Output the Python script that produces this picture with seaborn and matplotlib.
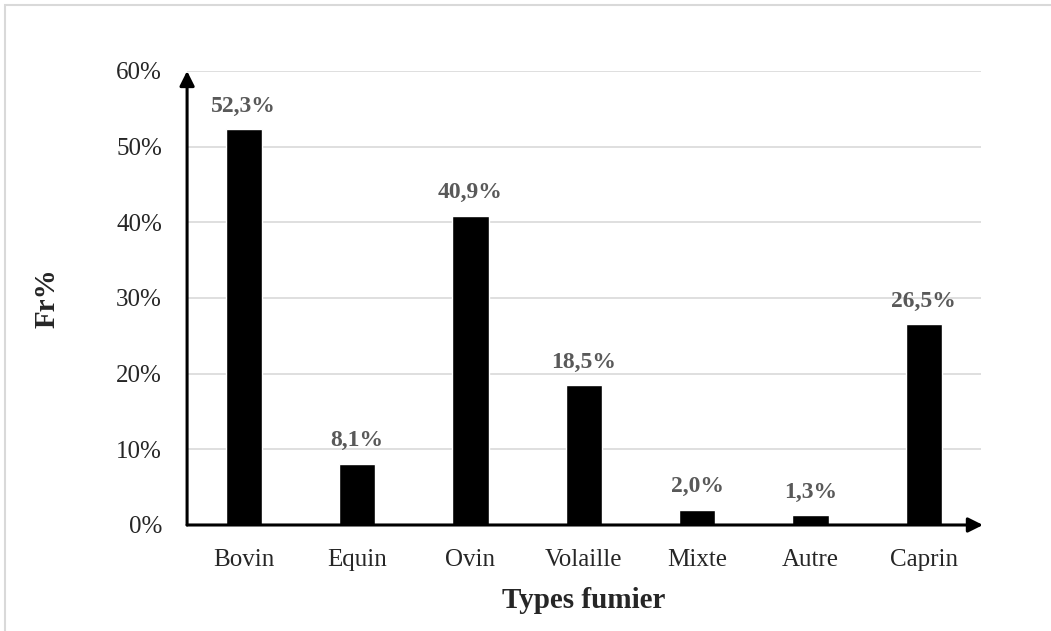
import matplotlib
matplotlib.use("Agg")
import pandas as pd
import seaborn as sns
import matplotlib.pyplot as plt
from matplotlib.patches import Rectangle

types = ['Bovin', 'Equin', 'Ovin', 'Volaille', 'Mixte', 'Autre', 'Caprin']
freq = [52.3, 8.1, 40.9, 18.5, 2.0, 1.3, 26.5]
yticks = [0, 10, 20, 30, 40, 50, 60]

df = pd.DataFrame({'Type': types, 'Fr': freq})

sns.set_style("white")
plt.rcParams["font.family"] = ["Liberation Serif", "DejaVu Serif"]

fig = plt.figure(figsize=(10.51, 6.31), dpi=100)
ax = fig.add_axes([0.178, 0.168, 0.755, 0.7195])

sns.barplot(data=df, x='Type', y='Fr', color='black', width=0.32,
            saturation=1, ax=ax)

ax.set_ylim(0, 60)
ax.set_xlim(-0.5, len(types) - 0.5)
ax.set_yticks(yticks)
ax.set_yticklabels([f"{t}%" for t in yticks])
ax.tick_params(axis='y', length=0, pad=18, labelsize=18)
ax.tick_params(axis='x', length=0, pad=17, labelsize=18)
ax.yaxis.grid(True, color='#d9d9d9', linewidth=1.2)
ax.set_axisbelow(True)
for s in ax.spines.values():
    s.set_visible(False)

labels = [f"{v:.1f}%".replace('.', ',') for v in freq]
ax.bar_label(ax.containers[0], labels=labels, padding=9,
             fontsize=17, fontweight='bold', color='#595959')

# axis arrows
arrow = dict(arrowstyle='-|>', color='black', lw=2.2, mutation_scale=22,
             shrinkA=0, shrinkB=0)
ax.annotate('', xy=(0, 1), xytext=(0, 0), xycoords='axes fraction',
            arrowprops=arrow, annotation_clip=False)
ax.annotate('', xy=(1.003, 0), xytext=(0, 0), xycoords='axes fraction',
            arrowprops=arrow, annotation_clip=False)

ax.set_xlabel('Types fumier', fontsize=21, fontweight='bold', labelpad=12)
ax.set_ylabel('Fr%', fontsize=21, fontweight='bold', labelpad=40)

fig.patches.append(Rectangle((0.005, -0.05), 1.2, 1.042, transform=fig.transFigure,
                             fill=False, edgecolor='#d9d9d9', linewidth=1.5))

fig.savefig("out.png", dpi=100)
